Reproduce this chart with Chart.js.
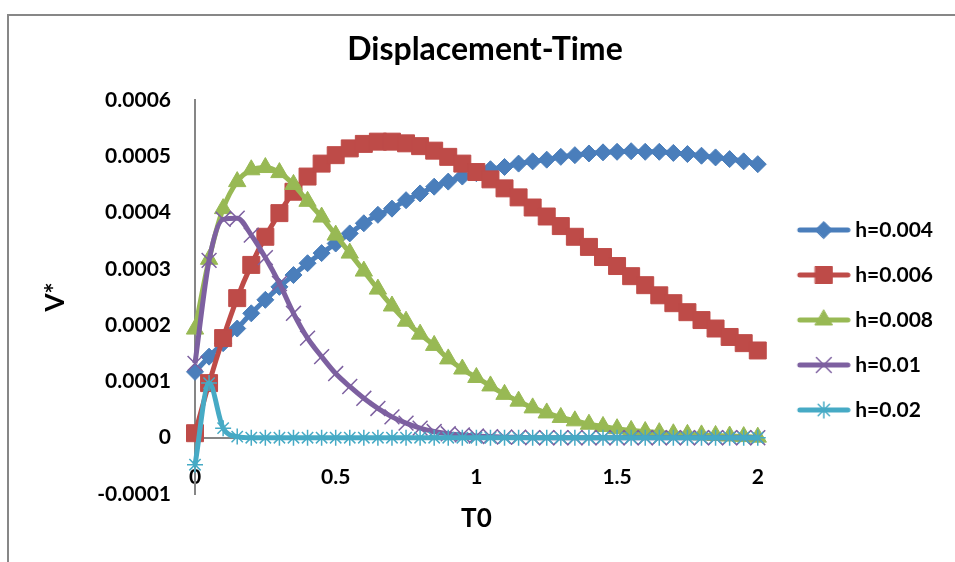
<!DOCTYPE html>
<html>
<head>
<meta charset="utf-8">
<script src="https://cdn.jsdelivr.net/npm/chart.js@4"></script>
<style>
  html, body { margin: 0; padding: 0; background: #fff; }
</style>
</head>
<body>
<canvas id="chart" width="955" height="562"></canvas>
<script>
// time axis T0
const tValues = [0, 0.05, 0.1, 0.15, 0.2, 0.25, 0.3, 0.35, 0.4, 0.45, 0.5, 0.55, 0.6, 0.65, 0.7,
  0.75, 0.8, 0.85, 0.9, 0.95, 1, 1.05, 1.1, 1.15, 1.2, 1.25, 1.3, 1.35, 1.4, 1.45, 1.5, 1.55,
  1.6, 1.65, 1.7, 1.75, 1.8, 1.85, 1.9, 1.95, 2];

// V* for each h
const h004 = [1.17e-4, 1.44e-4, 1.68e-4, 1.94e-4, 2.21e-4, 2.45e-4, 2.68e-4, 2.89e-4, 3.10e-4,
  3.28e-4, 3.45e-4, 3.63e-4, 3.81e-4, 3.96e-4, 4.07e-4, 4.22e-4, 4.34e-4, 4.46e-4, 4.55e-4,
  4.64e-4, 4.70e-4, 4.77e-4, 4.81e-4, 4.87e-4, 4.91e-4, 4.94e-4, 4.99e-4, 5.02e-4, 5.05e-4,
  5.07e-4, 5.08e-4, 5.09e-4, 5.08e-4, 5.08e-4, 5.06e-4, 5.04e-4, 5.01e-4, 4.98e-4, 4.95e-4,
  4.91e-4, 4.86e-4];
const h006 = [0.08e-4, 0.97e-4, 1.77e-4, 2.48e-4, 3.07e-4, 3.57e-4, 3.99e-4, 4.37e-4, 4.64e-4,
  4.87e-4, 5.02e-4, 5.14e-4, 5.22e-4, 5.26e-4, 5.26e-4, 5.23e-4, 5.18e-4, 5.10e-4, 4.99e-4,
  4.87e-4, 4.72e-4, 4.59e-4, 4.43e-4, 4.27e-4, 4.09e-4, 3.93e-4, 3.76e-4, 3.57e-4, 3.39e-4,
  3.21e-4, 3.05e-4, 2.87e-4, 2.71e-4, 2.53e-4, 2.39e-4, 2.23e-4, 2.09e-4, 1.94e-4, 1.79e-4,
  1.68e-4, 1.55e-4];
const h008 = [1.93e-4, 3.17e-4, 4.07e-4, 4.55e-4, 4.76e-4, 4.80e-4, 4.71e-4, 4.50e-4, 4.20e-4,
  3.92e-4, 3.60e-4, 3.28e-4, 2.96e-4, 2.64e-4, 2.34e-4, 2.07e-4, 1.84e-4, 1.64e-4, 1.40e-4,
  1.22e-4, 1.07e-4, 0.92e-4, 0.77e-4, 0.65e-4, 0.53e-4, 0.44e-4, 0.36e-4, 0.30e-4, 0.24e-4,
  0.20e-4, 0.16e-4, 0.13e-4, 0.11e-4, 0.09e-4, 0.07e-4, 0.06e-4, 0.05e-4, 0.04e-4, 0.03e-4,
  0.02e-4, 0.01e-4];
const h01 = [1.32e-4, 3.15e-4, 3.88e-4, 3.90e-4, 3.60e-4, 3.20e-4, 2.74e-4, 2.21e-4, 1.77e-4,
  1.44e-4, 1.14e-4, 0.91e-4, 0.70e-4, 0.52e-4, 0.37e-4, 0.26e-4, 0.17e-4, 0.11e-4, 0.07e-4,
  0.05e-4, 0.03e-4, 0.02e-4, 0.01e-4, 0.01e-4, 0, 0, 0, 0, 0, 0, 0, 0, 0, 0, 0, 0, 0, 0, 0, 0, 0];
const h02 = [-0.48e-4, 0.97e-4, 0.17e-4, 0.02e-4, 0, 0, 0, 0, 0, 0, 0, 0, 0, 0, 0, 0, 0, 0, 0, 0,
  0, 0, 0, 0, 0, 0, 0, 0, 0, 0, 0, 0, 0, 0, 0, 0, 0, 0, 0, 0, 0];

const yTicks = [-0.0001, 0, 0.0001, 0.0002, 0.0003, 0.0004, 0.0005, 0.0006];
const xTicks = [0, 0.5, 1, 1.5, 2];

Chart.defaults.font.family = 'Lato, "Open Sans", sans-serif';
Chart.defaults.color = '#000';

function series(label, values, color, style, radius, borderW, order) {
  return {
    label: label,
    data: tValues.map((t, i) => ({ x: t, y: values[i] })),
    borderColor: color,
    backgroundColor: color,
    borderWidth: 5,
    pointStyle: style,
    pointRadius: radius,
    pointBackgroundColor: color,
    pointBorderColor: color,
    pointBorderWidth: borderW,
    cubicInterpolationMode: 'monotone',
    clip: false,
    order: order
  };
}

const datasets = [
  series('h=0.004', h004, '#4A7EBB', 'rectRot', 8.5, 1, 5),
  series('h=0.006', h006, '#BE4B48', 'rect', 12, 1, 4),
  series('h=0.008', h008, '#98B954', 'triangle', 10, 1, 3),
  series('h=0.01', h01, '#7D60A0', 'crossRot', 10.5, 1.5, 2),
  series('h=0.02', h02, '#46AAC5', 'star', 8, 1.5, 1)
];

// legend sample: short line with the marker in the middle
function legendIcon(ds) {
  const c = document.createElement('canvas');
  c.width = 75;
  c.height = 28;
  const g = c.getContext('2d');
  g.strokeStyle = ds.borderColor;
  g.lineWidth = 5;
  g.lineCap = 'round';
  g.beginPath();
  g.moveTo(24, 14);
  g.lineTo(72, 14);
  g.stroke();
  g.fillStyle = ds.pointBackgroundColor;
  g.strokeStyle = ds.pointBorderColor;
  g.lineWidth = ds.pointBorderWidth;
  Chart.helpers.drawPoint(g, {
    pointStyle: ds.pointStyle,
    radius: ds.pointRadius,
    borderWidth: ds.pointBorderWidth,
    rotation: 0
  }, 48, 14);
  return c;
}
const icons = datasets.map(legendIcon);

const chartFrame = {
  id: 'chartFrame',
  beforeDraw(chart) {
    const { ctx, width, height } = chart;
    ctx.save();
    ctx.fillStyle = '#fff';
    ctx.fillRect(0, 0, width, height);
    ctx.strokeStyle = '#878787';
    ctx.lineWidth = 2;
    ctx.strokeRect(8, 15, width + 20, height + 20);
    ctx.restore();
  }
};

const axisLine = { color: '#868686', width: 2 };

new Chart(document.getElementById('chart'), {
  type: 'line',
  data: { datasets: datasets },
  plugins: [chartFrame],
  options: {
    responsive: false,
    animation: false,
    events: [],
    layout: { padding: { top: 0, left: 27, right: 12, bottom: 68 } },
    plugins: {
      title: {
        display: true,
        text: 'Displacement-Time',
        font: { size: 32, weight: 'bold' },
        padding: { top: 30, bottom: 31.6 }
      },
      legend: {
        position: 'right',
        fullSize: false,
        title: { display: true, text: '', font: { size: 10 }, padding: { top: 0, bottom: 34 } },
        labels: {
          usePointStyle: true,
          pointStyleWidth: 63,
          padding: 24,
          font: { size: 21, weight: 'bold' },
          sort: (a, b) => a.datasetIndex - b.datasetIndex,
          generateLabels(chart) {
            const items = Chart.defaults.plugins.legend.labels.generateLabels(chart);
            items.forEach(it => { it.pointStyle = icons[it.datasetIndex]; });
            return items;
          }
        }
      },
      tooltip: { enabled: false }
    },
    scales: {
      x: {
        type: 'linear',
        position: { y: 0 },
        min: xTicks[0],
        max: xTicks[xTicks.length - 1],
        afterBuildTicks(scale) { scale.ticks = xTicks.map(v => ({ value: v })); },
        afterFit(scale) { scale.height = 96; },
        ticks: { padding: 27, font: { size: 21, weight: 'bold' }, callback: v => String(v) },
        grid: { drawOnChartArea: false, drawTicks: false },
        border: axisLine,
        title: { display: true, text: 'T0', font: { size: 26, weight: 'bold' }, padding: 0 }
      },
      y: {
        min: yTicks[0],
        max: yTicks[yTicks.length - 1],
        afterBuildTicks(scale) { scale.ticks = yTicks.map(v => ({ value: v })); },
        afterFit(scale) { scale.width = 168; },
        ticks: {
          padding: 24,
          font: { size: 21, weight: 'bold' },
          callback: v => (v === 0 ? '0' : v.toFixed(4))
        },
        grid: { drawOnChartArea: false, drawTicks: false },
        border: axisLine,
        title: { display: true, text: 'V*', font: { size: 26, weight: 'bold' }, padding: { top: 13, bottom: 0 } }
      }
    }
  }
});
</script>
</body>
</html>
